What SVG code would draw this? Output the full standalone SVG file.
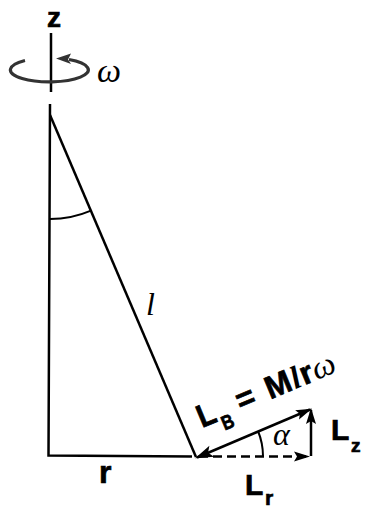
<svg xmlns="http://www.w3.org/2000/svg" width="374" height="511" viewBox="0 0 374 511">
<style>
.ln{fill:none;stroke:#000;stroke-width:2.5;stroke-linecap:butt}
.thin{fill:none;stroke:#000;stroke-width:2}
.sans{font-family:"Liberation Sans",Arial,sans-serif;font-weight:bold;fill:#000;stroke:#000;stroke-width:0.7}
.serif{font-family:"Liberation Serif","Times New Roman",serif;font-style:italic;fill:#000}
</style>
<defs>
<marker id="ah" markerUnits="userSpaceOnUse" markerWidth="20" markerHeight="12" refX="16" refY="6" orient="auto-start-reverse" overflow="visible">
<path d="M0,0 L18,6 L0,12 L4,6 Z" fill="#000"/>
</marker>
<marker id="ahs" markerUnits="userSpaceOnUse" markerWidth="18" markerHeight="10" refX="14" refY="5" orient="auto" overflow="visible">
<path d="M0,0 L16,5 L0,10 L3,5 Z" fill="#000"/>
</marker>
</defs>
<g id="axis">
<line class="ln" x1="51" y1="33" x2="51" y2="92" stroke="#333"/>
<path d="M25,60.5 A39,12 0 1 0 69,59.5" fill="none" stroke="#333" stroke-width="3.2"/>
<path d="M56,58.5 L71,53.5 L68,59.5 L71,64 Z" fill="#333"/>
<text class="sans" x="47" y="27" font-size="28">z</text>
<text class="serif" x="97" y="82" font-size="34">ω</text>
</g>
<g id="triangle">
<path class="ln" d="M50,104 L48.5,455.5 L192,456.5"/>
<line class="ln" x1="50" y1="115" x2="196" y2="457"/>
<path class="thin" d="M50,219 A104,104 0 0 0 91,210.6"/>
<text class="serif" x="146" y="315" font-size="32">l</text>
<text class="sans" x="99" y="483" font-size="32">r</text>
</g>
<g id="connectors">
<line class="ln" x1="199" y1="456.5" x2="308" y2="456.5" stroke-dasharray="9 5" marker-end="url(#ahs)"/>
<line class="ln" x1="311" y1="456" x2="311" y2="410" marker-end="url(#ahs)"/>
<line class="ln" x1="197" y1="457.5" x2="310" y2="409.5" marker-start="url(#ah)" marker-end="url(#ahs)"/>
<path class="thin" d="M258,431 A67,67 0 0 1 263,456"/>
</g>
<g id="labels">
<text class="serif" x="273" y="445" font-size="32">α</text>
<text class="sans" x="331" y="440" font-size="30">L</text>
<text class="sans" x="351" y="452" font-size="19">z</text>
<text class="sans" x="245" y="495" font-size="30">L</text>
<text class="sans" x="265" y="505" font-size="21">r</text>
<g transform="translate(202,428) rotate(-22.6)">
<text class="sans" x="0" y="0" font-size="32" textLength="18" lengthAdjust="spacingAndGlyphs">L</text>
<text class="sans" x="20" y="11" font-size="20" textLength="12" lengthAdjust="spacingAndGlyphs">B</text>
<text class="sans" x="42" y="0" font-size="32">=</text>
<text class="sans" x="74" y="0" font-size="32" textLength="26" lengthAdjust="spacingAndGlyphs">M</text>
<text class="serif" x="101" y="0" font-size="32" font-weight="bold">l</text>
<text class="sans" x="111" y="0" font-size="32">r</text>
<text class="serif" x="124" y="0" font-size="33">ω</text>
</g>
</g>
</svg>
